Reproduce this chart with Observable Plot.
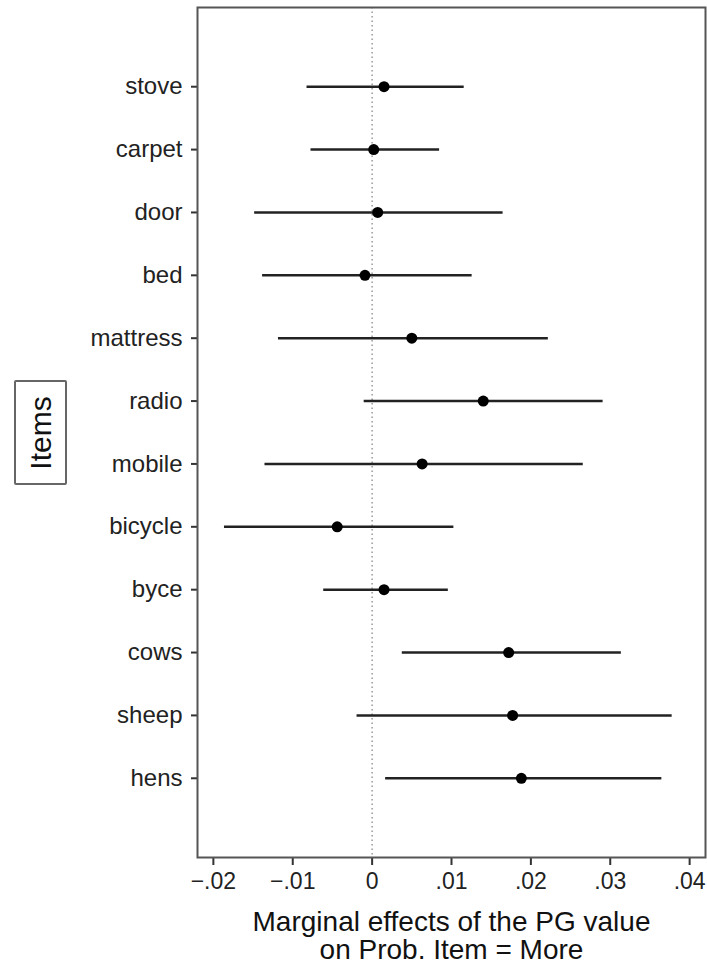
<!DOCTYPE html>
<html>
<head>
<meta charset="utf-8">
<script src="https://cdn.jsdelivr.net/npm/d3@7"></script>
<script src="https://cdn.jsdelivr.net/npm/@observablehq/plot@0.6"></script>
<style>
  html, body { margin: 0; padding: 0; background: #fff; }
  #wrap { position: relative; width: 707px; height: 969px; font-family: "Liberation Sans", Arial, Helvetica, sans-serif; }
  #ylab { position: absolute; left: 14px; top: 380px; width: 53px; height: 105px; border: 2px solid #666; border-radius: 2px; box-sizing: border-box; }
  #ylab span { position: absolute; left: 50%; top: 50%; transform: translate(-50%, -50%) rotate(-90deg); font-size: 30px; color: #111; white-space: nowrap; }
</style>
</head>
<body>
<div id="wrap"><div id="ylab"><span>Items</span></div></div>
<script>
const items = ["stove","carpet","door","bed","mattress","radio","mobile","bicycle","byce","cows","sheep","hens"];
const estimate = [0.0015, 0.0002, 0.0007, -0.0009, 0.0050, 0.0140, 0.0063, -0.0044, 0.0015, 0.0172, 0.0177, 0.0188];
const lower    = [-0.0082, -0.0077, -0.0148, -0.0138, -0.0118, -0.0010, -0.0135, -0.0186, -0.0061, 0.0038, -0.0019, 0.0017];
const upper    = [0.0116, 0.0085, 0.0165, 0.0126, 0.0222, 0.0291, 0.0266, 0.0103, 0.0096, 0.0314, 0.0378, 0.0365];
const xTicks = [-0.02, -0.01, 0, 0.01, 0.02, 0.03, 0.04];
const xLabel = "Marginal effects of the PG value\non Prob. Item = More";

const rows = items.map((name, i) => ({name, est: estimate[i], lo: lower[i], hi: upper[i]}));
const fmt = d => d === 0 ? "0" : d3.format(".2f")(d).replace("0.", ".");
const ink = "#222";

const chart = Plot.plot({
  width: 707,
  height: 969,
  marginLeft: 197,
  marginRight: 2,
  marginTop: 7,
  marginBottom: 112,
  style: {fontFamily: "Liberation Sans, Arial, Helvetica, sans-serif", fontSize: "24px", color: ink, background: "#fff"},
  x: {domain: [-0.022, 0.042], ticks: xTicks, tickFormat: fmt, tickSize: 8, tickPadding: 7, label: null},
  y: {type: "point", domain: items, padding: 1.26, round: false, tickSize: 6, tickPadding: 9, label: null},
  marks: [
    Plot.ruleX([0], {stroke: "#999", strokeWidth: 1.5, strokeDasharray: "1.5,3"}),
    Plot.ruleY(rows, {y: "name", x1: "lo", x2: "hi", stroke: ink, strokeWidth: 2.5}),
    Plot.ruleX(rows, {x: "lo", y: "name", stroke: ink, strokeWidth: 1.5, insetTop: -2.5, insetBottom: -2.5}),
    Plot.ruleX(rows, {x: "hi", y: "name", stroke: ink, strokeWidth: 1.5, insetTop: -2.5, insetBottom: -2.5}),
    Plot.dot(rows, {x: "est", y: "name", r: 5.5, fill: "#000"}),
    Plot.axisX({ticks: xTicks, tickFormat: fmt, tickSize: 8, tickPadding: 7, stroke: "#333", strokeWidth: 2, fontSize: 23, label: null}),
    Plot.axisY({tickSize: 6, tickPadding: 9, stroke: "#333", strokeWidth: 2, fontSize: 24, label: null}),
    Plot.frame({stroke: "#555", strokeWidth: 2}),
    Plot.text([xLabel], {frameAnchor: "bottom", dy: 54, lineAnchor: "top", fontSize: 28, lineHeight: 1.0, fill: "#111"})
  ]
});
document.getElementById("wrap").prepend(chart);
</script>
</body>
</html>
